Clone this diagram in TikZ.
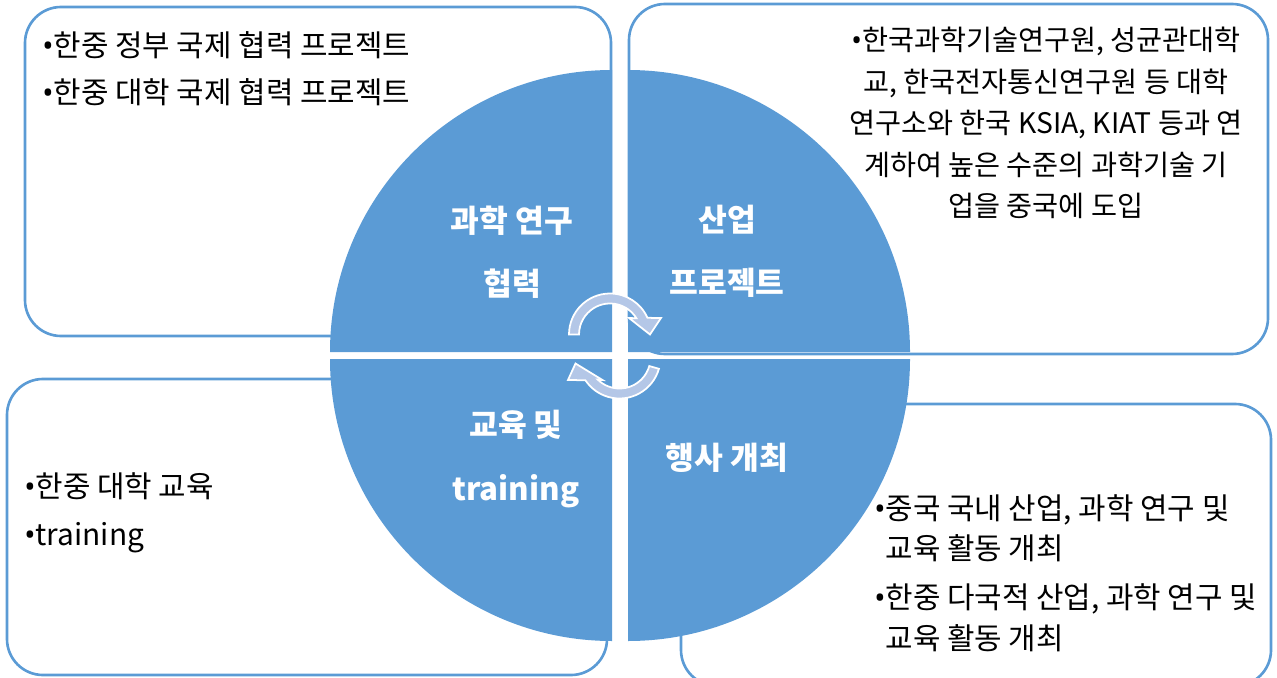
\documentclass[tikz,border=0pt]{standalone}
\usepackage{fontspec}
\setmainfont{Noto Sans CJK KR}
\newfontfamily\bulletfont{Noto Sans}
\newcommand{\bul}{{\bulletfont •}}
\definecolor{quadblue}{HTML}{5B9BD5}
\definecolor{arrowblue}{HTML}{B4C7E7}

\begin{document}
\begin{tikzpicture}[
    x=0.02cm, y=0.02cm,
    infobox/.style={
      draw=quadblue, line width=1.5pt, rounded corners=0.72cm
    },
    quadrant/.style={fill=quadblue},
    cyclearrow/.style={fill=arrowblue, draw=white, line width=1pt},
    bodytext/.style={align=left, inner sep=0pt, anchor=west},
    quadlabel/.style={
      align=center, inner sep=0pt, text=white,
      font=\bfseries\fontsize{17.8}{36}\selectfont
    }
  ]
    \useasboundingbox (0,0) rectangle (1277,677);

    % outer boxes, behind the circle
    \draw[infobox] (25,341) rectangle (611,670);
    \draw[infobox] (629,323) rectangle (1268,673);
    \draw[infobox] (7,2) rectangle (607,298);
    \draw[infobox] (681,-9) rectangle (1271,273);

    % four quarters of the circle
    \fill[quadrant] (612,325) -- (330,325) arc[start angle=180, end angle=90, radius=282] -- cycle;
    \fill[quadrant] (628,325) -- (628,607) arc[start angle=90, end angle=0, radius=282] -- cycle;
    \fill[quadrant] (612,318) -- (330,318) arc[start angle=180, end angle=270, radius=282] -- cycle;
    \fill[quadrant] (628,318) -- (910,318) arc[start angle=0, end angle=-90, radius=282] -- cycle;

    \node[quadlabel] (Research) at (512,425) {과학 연구\\협력};
    \node[quadlabel] (Industry) at (727,426) {산업\\프로젝트};
    \node[quadlabel] (Training) at (516,218) {교육 및\\training};
    \node[quadlabel] (Events) at (727,219) {행사 개최};

    \node[bodytext, font=\fontsize{17}{26.6}\selectfont] (ResearchText) at (42,608.5)
      {\bul 한중 정부 국제 협력 프로젝트\\\bul 한중 대학 국제 협력 프로젝트};
    \node[bodytext, align=center, anchor=center, font=\fontsize{16.1}{23.6}\selectfont]
      (IndustryText) at (1046,554)
      {\bul 한국과학기술연구원, 성균관대학\\교, 한국전자통신연구원 등 대학\\연구소와 한국 KSIA, KIAT 등과 연\\계하여 높은 수준의 과학기술 기\\업을 중국에 도입};
    \node[bodytext, font=\fontsize{17}{27.2}\selectfont] (TrainingText) at (24,164)
      {\bul 한중 대학 교육\\\bul training};
    \node[bodytext, font=\fontsize{17}{23}\selectfont] (EventsText) at (874,104)
      {\bul 중국 국내 산업, 과학 연구 및\\\phantom{\bul}교육 활동 개최\\[5pt]\bul 한중 다국적 산업, 과학 연구 및\\\phantom{\bul}교육 활동 개최};

    % circular arrows in the middle
    \begin{scope}[shift={(610,342.5)}]
      \filldraw[cyclearrow] (180:41) arc[start angle=180, end angle=24, radius=41]
        -- (51,16.5) -- (40,0) -- (19,16.5) -- (31.6:31)
        arc[start angle=31.6, end angle=180, radius=31] -- cycle;
    \end{scope}
    \begin{scope}[shift={(619.5,319.5)}]
      \filldraw[cyclearrow] (-16:41) arc[start angle=-16, end angle=-146.3, radius=41]
        -- (-51.5,-22.5) -- (-44,-6) -- (-17,-22.5) -- (-134.4:31)
        arc[start angle=-134.4, end angle=-16, radius=31] -- cycle;
    \end{scope}
\end{tikzpicture}
\end{document}
